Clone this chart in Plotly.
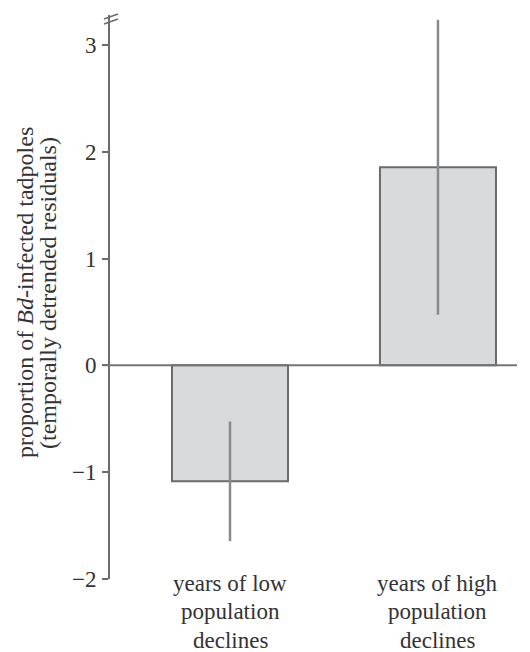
import plotly.graph_objects as go

categories = ["years of low<br>population<br>declines", "years of high<br>population<br>declines"]
means = [-1.085, 1.855]
errors = [0.56, 1.38]
y_ticks = [-2, -1, 0, 1, 2, 3]
y_title_lines = ["proportion of <i>Bd</i>-infected tadpoles", "(temporally detrended residuals)"]

W, H = 530, 652
L, R, T, B = 110, 13, 15, 73
pw, ph = W - L - R, H - T - B

def px(x):
    return (x - L) / pw

def py(y):
    return (H - B - y) / ph

xpos = list(range(len(categories)))
FAM = "Liberation Serif, Times New Roman, serif"
TXT = "#333333"

fig = go.Figure()
fig.add_trace(go.Bar(
    x=xpos, y=means, width=0.558,
    marker=dict(color="#d9dadc", line=dict(color="#6b6b6b", width=2)),
    error_y=dict(type="data", array=errors, visible=True, color="#8a8a8a", thickness=2.5, width=0),
    showlegend=False, hoverinfo="skip",
))

fig.update_layout(
    width=W, height=H,
    margin=dict(l=L, r=R, t=T, b=B),
    paper_bgcolor="white", plot_bgcolor="white",
    font=dict(family=FAM, size=23, color=TXT),
    xaxis=dict(range=[-0.577, 1.38], showgrid=False, zeroline=False, showline=False,
               showticklabels=False, ticks=""),
    yaxis=dict(range=[-2, 3.28], tickvals=y_ticks,
               ticktext=[("\u2212" + str(-v)) if v < 0 else str(v) for v in y_ticks],
               showgrid=False, zeroline=False, showline=True, linecolor="#6b6b6b", linewidth=2,
               ticks="outside", ticklen=6, tickwidth=2, tickcolor="#6b6b6b", ticklabelstandoff=1,
               tickfont=dict(family=FAM, size=23, color=TXT)),
)

# zero line extending slightly left of the axis
fig.add_shape(type="line", xref="paper", yref="y", x0=px(103), x1=px(517), y0=0, y1=0,
              line=dict(color="#757575", width=2), layer="above")

# axis break marks
for dy in (0, 5):
    fig.add_shape(type="line", xref="paper", yref="paper",
                  x0=px(104), y0=py(19 + dy), x1=px(118), y1=py(14 + dy),
                  line=dict(color="#6b6b6b", width=1.5))

# category labels, one annotation per line for exact spacing
line_centers = [583, 611.5, 640]
for xi, lab in zip(xpos, categories):
    for yc, part in zip(line_centers, lab.split("<br>")):
        fig.add_annotation(x=xi, xref="x", y=py(yc), yref="paper", yanchor="middle",
                           text=part, showarrow=False,
                           font=dict(family=FAM, size=23, color=TXT))

# y title, two lines
for xc, line in zip((25, 48), y_title_lines):
    fig.add_annotation(x=px(xc), xref="paper", y=py(293), yref="paper",
                       xanchor="center", yanchor="middle", textangle=-90,
                       text=line, showarrow=False,
                       font=dict(family=FAM, size=24, color=TXT))

fig.write_html("out.html", config={"displayModeBar": False},
               post_script="document.body.style.margin='0';")
